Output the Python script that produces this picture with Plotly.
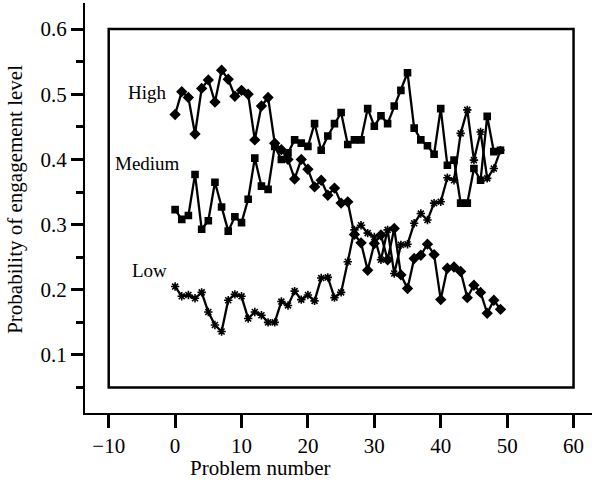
import plotly.graph_objects as go

problems = list(range(50))

high = [0.469, 0.504, 0.495, 0.439, 0.509, 0.522, 0.488, 0.537, 0.523, 0.497,
        0.506, 0.500, 0.430, 0.482, 0.495, 0.425, 0.415, 0.400, 0.370, 0.400,
        0.385, 0.358, 0.368, 0.345, 0.356, 0.333, 0.335, 0.285, 0.272, 0.230,
        0.271, 0.284, 0.246, 0.294, 0.223, 0.202, 0.248, 0.253, 0.270, 0.254,
        0.185, 0.233, 0.235, 0.228, 0.188, 0.207, 0.196, 0.164, 0.184, 0.170]

medium = [0.323, 0.308, 0.314, 0.377, 0.293, 0.306, 0.365, 0.327, 0.290, 0.312,
          0.303, 0.339, 0.402, 0.359, 0.354, 0.420, 0.400, 0.410, 0.430, 0.425,
          0.420, 0.455, 0.414, 0.436, 0.455, 0.472, 0.423, 0.430, 0.430, 0.478,
          0.451, 0.467, 0.455, 0.482, 0.506, 0.533, 0.448, 0.430, 0.421, 0.408,
          0.478, 0.391, 0.399, 0.333, 0.333, 0.386, 0.368, 0.466, 0.412, 0.414]

low = [0.205, 0.190, 0.192, 0.187, 0.196, 0.166, 0.146, 0.136, 0.184, 0.193,
       0.190, 0.156, 0.166, 0.161, 0.150, 0.150, 0.182, 0.176, 0.198, 0.185,
       0.192, 0.183, 0.218, 0.219, 0.188, 0.196, 0.243, 0.292, 0.299, 0.287,
       0.281, 0.246, 0.292, 0.225, 0.269, 0.270, 0.302, 0.317, 0.307, 0.333,
       0.335, 0.372, 0.368, 0.440, 0.476, 0.399, 0.442, 0.371, 0.386, 0.414]

series_names = ["High", "Medium", "Low"]
label_x = [-4.1, -4.1, -3.8]
label_y = [0.503, 0.394, 0.230]

x_ticks = [-10, 0, 10, 20, 30, 40, 50, 60]
y_major = [0.1, 0.2, 0.3, 0.4, 0.5, 0.6]
y_minor = [0.05, 0.15, 0.25, 0.35, 0.45, 0.55]

FONT = "Liberation Serif"

fig = go.Figure()
for vals, sym, sz in [(high, "diamond", 7), (medium, "square", 6), (low, "asterisk-open", 7)]:
    fig.add_trace(go.Scatter(
        x=problems, y=vals, mode="lines+markers",
        line=dict(color="black", width=2.3),
        marker=dict(symbol=sym, size=sz, color="black",
                    line=dict(color="black", width=1.6)),
        showlegend=False, hoverinfo="skip"))

fig.add_shape(type="rect", xref="x", yref="y", x0=-10, x1=60, y0=0.05, y1=0.6,
              line=dict(color="black", width=2.5), layer="below")

for name, lx, ly in zip(series_names, label_x, label_y):
    fig.add_annotation(x=lx, y=ly, xref="x", yref="y", text=name, showarrow=False,
                       font=dict(family=FONT, size=19, color="black"),
                       xanchor="center", yanchor="middle")

fig.add_annotation(x=0.347, y=-0.135, xref="paper", yref="paper", text="Problem number",
                   showarrow=False, font=dict(family=FONT, size=21, color="black"),
                   xanchor="center", yanchor="middle")
fig.add_annotation(x=-0.138, y=0.52, xref="paper", yref="paper",
                   text="Probability of engagement level", textangle=-90,
                   showarrow=False, font=dict(family=FONT, size=21, color="black"),
                   xanchor="center", yanchor="middle")

fig.update_xaxes(range=[-13.57, 62.78], tickvals=x_ticks,
                 ticktext=["\u221210" if t < 0 else str(t) for t in x_ticks],
                 ticks="outside", ticklen=13, tickwidth=2.5, tickcolor="black",
                 showline=True, linecolor="black", linewidth=2, mirror=False,
                 showgrid=False, zeroline=False,
                 tickfont=dict(family=FONT, size=21, color="black"))
fig.update_yaxes(range=[0.011, 0.640], tickvals=y_major,
                 ticktext=[f"{v:.1f}" for v in y_major],
                 ticks="outside", ticklen=12, tickwidth=2.5, tickcolor="black",
                 minor=dict(tickvals=y_minor, ticks="outside", ticklen=7, tickwidth=2.5,
                            tickcolor="black", showgrid=False),
                 showline=True, linecolor="black", linewidth=2, mirror=False,
                 showgrid=False, zeroline=False,
                 tickfont=dict(family=FONT, size=21, color="black"))

fig.update_layout(width=592, height=486, margin=dict(l=85, r=0, t=3, b=73),
                  plot_bgcolor="white", paper_bgcolor="white")

fig.write_html("out.html")
